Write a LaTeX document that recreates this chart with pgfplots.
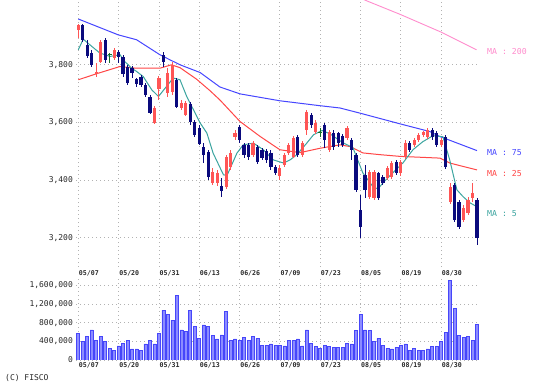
\documentclass[border=0pt]{standalone}
\usepackage{pgfplots}
\pgfplotsset{compat=1.18}
\usepackage{pgfplotstable}
\usepackage{fontspec}
\newfontfamily\mono{DejaVu Sans Mono}
\definecolor{upc}{RGB}{255,85,85}
\definecolor{dnc}{RGB}{10,10,125}
\definecolor{dojic}{RGB}{20,110,40}
\definecolor{maA}{RGB}{255,140,205}
\definecolor{maB}{RGB}{70,70,255}
\definecolor{maC}{RGB}{255,70,70}
\definecolor{maD}{RGB}{60,165,160}
\definecolor{volfill}{RGB}{140,140,255}
\definecolor{voldraw}{RGB}{70,70,250}
\definecolor{tickc}{RGB}{40,40,40}

\pgfplotstableread{
i o h l c
0 3922 3942 3894 3939
4 3769 3807 3758 3776
5 3810 3887 3807 3880
8 3824 3859 3817 3852
17 3599 3658 3595 3651
18 3717 3762 3679 3755
20 3703 3790 3689 3772
21 3706 3810 3696 3800
23 3651 3679 3644 3668
24 3626 3675 3623 3668
30 3390 3442 3383 3428
31 3390 3435 3380 3425
33 3376 3488 3369 3481
34 3446 3505 3435 3494
35 3550 3574 3540 3564
39 3488 3536 3481 3529
45 3415 3453 3401 3442
46 3453 3494 3446 3488
47 3494 3529 3488 3522
48 3481 3554 3477 3547
50 3488 3536 3481 3529
51 3574 3644 3557 3637
53 3567 3609 3560 3599
56 3505 3574 3498 3567
60 3547 3588 3540 3581
65 3342 3435 3335 3428
66 3338 3435 3331 3428
69 3408 3449 3401 3442
70 3411 3467 3404 3460
72 3425 3470 3415 3463
73 3481 3540 3474 3529
75 3522 3547 3515 3540
76 3540 3564 3533 3557
77 3557 3571 3550 3567
78 3550 3581 3543 3574
81 3522 3547 3515 3540
83 3324 3390 3317 3376
86 3262 3314 3255 3304
87 3286 3342 3279 3331
88 3338 3390 3324 3356
}\uptab

\pgfplotstableread{
i o h l c
1 3939 3942 3880 3887
2 3869 3887 3824 3831
3 3842 3852 3793 3800
6 3887 3894 3807 3817
9 3845 3852 3807 3828
10 3828 3835 3758 3769
11 3793 3800 3731 3738
12 3790 3797 3755 3772
13 3751 3755 3724 3734
14 3758 3765 3724 3731
15 3731 3738 3689 3696
16 3689 3696 3630 3633
19 3835 3845 3793 3810
22 3748 3755 3651 3654
25 3665 3672 3592 3602
26 3602 3609 3550 3557
27 3581 3592 3522 3526
28 3515 3529 3460 3488
29 3498 3505 3401 3411
32 3380 3408 3342 3363
36 3585 3592 3529 3540
37 3522 3529 3477 3488
38 3522 3529 3470 3481
40 3515 3522 3456 3463
41 3505 3512 3470 3477
42 3501 3508 3460 3470
43 3494 3505 3435 3446
44 3446 3453 3418 3425
49 3550 3557 3481 3488
52 3626 3633 3581 3592
55 3592 3599 3512 3540
57 3564 3574 3505 3515
58 3564 3567 3515 3529
59 3554 3560 3515 3522
61 3540 3547 3470 3505
62 3488 3494 3359 3366
63 3297 3349 3199 3238
64 3418 3453 3338 3366
67 3425 3428 3331 3338
68 3411 3418 3383 3390
71 3463 3470 3418 3425
74 3529 3536 3498 3505
79 3574 3581 3540 3550
80 3564 3571 3515 3522
82 3550 3557 3439 3446
84 3383 3390 3255 3262
85 3324 3331 3231 3238
89 3331 3338 3175 3199
}\dntab

\pgfplotstableread{
i o h l c
7 3836 3842 3807 3834
54 3565 3581 3550 3563
}\dojitab

\pgfplotstableread{
i v
0 571000
1 407000
2 500000
3 643000
4 428000
5 500000
6 407000
7 250000
8 214000
9 300000
10 357000
11 414000
12 236000
13 236000
14 214000
15 343000
16 414000
17 343000
18 571000
19 1071000
20 978000
21 857000
22 1378000
23 643000
24 607000
25 1071000
26 714000
27 464000
28 750000
29 714000
30 521000
31 450000
32 536000
33 1036000
34 428000
35 450000
36 414000
37 478000
38 428000
39 500000
40 464000
41 321000
42 321000
43 343000
44 321000
45 321000
46 300000
47 414000
48 414000
49 450000
50 300000
51 643000
52 357000
53 286000
54 250000
55 307000
56 293000
57 271000
58 271000
59 271000
60 357000
61 343000
62 629000
63 978000
64 643000
65 629000
66 407000
67 464000
68 321000
69 250000
70 236000
71 271000
72 307000
73 343000
74 200000
75 250000
76 214000
77 200000
78 236000
79 286000
80 286000
81 407000
82 593000
83 1700000
84 1107000
85 521000
86 478000
87 500000
88 428000
89 764000
}\voltab

\pgfplotsset{
  chartbase/.style={
    scale only axis, width=403.2pt,
    xmin=-0.5, xmax=89.5,
    axis line style={draw=none},
    major tick length=0pt,
    xtick={0,9,18,27,36,45,54,63,72,81},
    xticklabels={05/07,05/20,05/31,06/13,06/26,07/09,07/23,08/05,08/19,08/30},
    grid=major,
    grid style={draw=gray!60, line width=0.8pt, dash pattern=on 0.8pt off 3.2pt},
    yticklabel style={font=\mono\fontsize{8}{9}\selectfont, text=tickc, anchor=east, inner sep=0pt, xshift=-3pt},
    xticklabel style={font=\mono\bfseries\fontsize{6.6}{7}\selectfont, text=tickc, anchor=north west, inner sep=0pt, xshift=0.5pt},
  },
  candle/.style 2 args={only marks, mark=*, mark size=0pt, mark options={draw opacity=0, fill opacity=0}, forget plot,
    error bars/.cd, y dir=both, y explicit, error mark=none,
    error bar style={line width=#1, draw=#2}},
}

\begin{document}
\begin{tikzpicture}[x=1pt,y=1pt]
\path[use as bounding box, fill=white] (0,0) rectangle (542,390);

\begin{axis}[chartbase,
  at={(76.06pt,123.6pt)}, anchor=south west, height=266.4pt,
  ymin=3100, ymax=4025,
  ytick={3200,3400,3600,3800},
  yticklabels={{3,200},{3,400},{3,600},{3,800}},
  xticklabel style={yshift=-4pt},
]
% MA lines
\addplot[color=maA, line width=0.9pt, mark=none] coordinates {
(62,4038) (64.7,4020) (72,3974) (80.9,3914) (88.9,3852)};
\addplot[color=maB, line width=1pt, mark=none] coordinates {
(0,3959) (8.9,3904) (13,3887) (18.2,3835) (20.5,3817) (22.7,3800) (27.2,3773) (29.4,3748) (31.6,3723) (36.1,3699) (45,3675) (53.9,3658) (58.4,3650) (62.9,3632) (71.8,3595) (78.5,3568) (80.7,3551) (89,3502)};
\addplot[color=maC, line width=1pt, mark=none] coordinates {
(0,3748) (4.1,3769) (9.3,3794) (13,3788) (18.2,3788) (20.8,3800) (22.7,3790) (26.4,3750) (29.4,3710) (31.6,3678) (36.1,3603) (40.6,3551) (45,3505) (49.5,3495) (53.9,3510) (58.4,3522) (60.7,3516) (63.5,3494) (67.3,3488) (71.8,3482) (80.7,3476) (82.9,3459) (85.9,3447) (89,3435)};
\addplot[color=maD, line width=1pt, mark=none] coordinates {
(0,3852) (1.1,3889) (3.0,3864) (4.8,3841) (7.1,3829) (9.3,3835) (10.4,3811) (11.9,3788) (13.0,3777) (14.5,3759) (16.4,3713) (17.9,3690) (19.7,3725) (21.2,3754) (22.7,3748) (24.2,3690) (25.7,3644) (27.2,3598) (28.7,3563) (30.1,3493) (32.4,3418) (33.2,3416) (35.4,3493) (36.8,3522) (39.1,3528) (41.3,3505) (43.5,3470) (45.8,3459) (47.3,3470) (48.8,3488) (51.0,3528) (52.5,3557) (54.4,3572) (56.2,3560) (59.1,3529) (61.3,3512) (63.5,3425) (65.8,3376) (66.9,3369) (68.0,3390) (70.2,3425) (72.5,3460) (74.7,3505) (76.9,3533) (79.2,3554) (81.4,3550) (82.9,3470) (84.5,3366) (85.9,3342) (87.4,3321) (89,3307)};

% wicks
\addplot[candle={0.9pt}{upc}]
  table[x=i, y expr={(\thisrow{h}+\thisrow{l})/2}, y error expr={(\thisrow{h}-\thisrow{l})/2}] \uptab;
\addplot[candle={0.9pt}{dnc}]
  table[x=i, y expr={(\thisrow{h}+\thisrow{l})/2}, y error expr={(\thisrow{h}-\thisrow{l})/2}] \dntab;
\addplot[candle={0.9pt}{dojic}]
  table[x=i, y expr={(\thisrow{h}+\thisrow{l})/2}, y error expr={(\thisrow{h}-\thisrow{l})/2}] \dojitab;
% bodies
\addplot[candle={3.2pt}{upc}]
  table[x=i, y expr={(\thisrow{o}+\thisrow{c})/2}, y error expr={abs(\thisrow{o}-\thisrow{c})/2}] \uptab;
\addplot[candle={3.2pt}{dnc}]
  table[x=i, y expr={(\thisrow{o}+\thisrow{c})/2}, y error expr={abs(\thisrow{o}-\thisrow{c})/2}] \dntab;
\addplot[only marks, mark=-, mark size=2pt, color=dojic, line width=1pt, forget plot]
  table[x=i, y=o] \dojitab;
\end{axis}

\begin{axis}[chartbase,
  at={(76.06pt,30pt)}, anchor=south west, height=81.2pt,
  ymin=0, ymax=1740000,
  ytick={0,400000,800000,1200000,1600000},
  yticklabels={0,{400,000},{800,000},{1,200,000},{1,600,000}},
  scaled y ticks=false,
  xticklabel style={yshift=-2.5pt},
]
\addplot[ybar, bar width=3pt, fill=volfill, draw=voldraw, line width=0.6pt] table[x=i, y=v] \voltab;
\end{axis}

\node[anchor=west, inner sep=0pt, text=maA, font=\mono\fontsize{8.2}{9}\selectfont] at (487pt,338.3pt) {MA : 200};
\node[anchor=west, inner sep=0pt, text=maB, font=\mono\fontsize{8.2}{9}\selectfont] at (487pt,237.7pt) {MA : 75};
\node[anchor=west, inner sep=0pt, text=maC, font=\mono\fontsize{8.2}{9}\selectfont] at (487pt,216.7pt) {MA : 25};
\node[anchor=west, inner sep=0pt, text=maD, font=\mono\fontsize{8.2}{9}\selectfont] at (487pt,176.7pt) {MA : 5};
\node[anchor=west, inner sep=0pt, text=tickc, font=\mono\fontsize{8}{9}\selectfont] at (5pt,12pt) {(C) FISCO};
\end{tikzpicture}
\end{document}
